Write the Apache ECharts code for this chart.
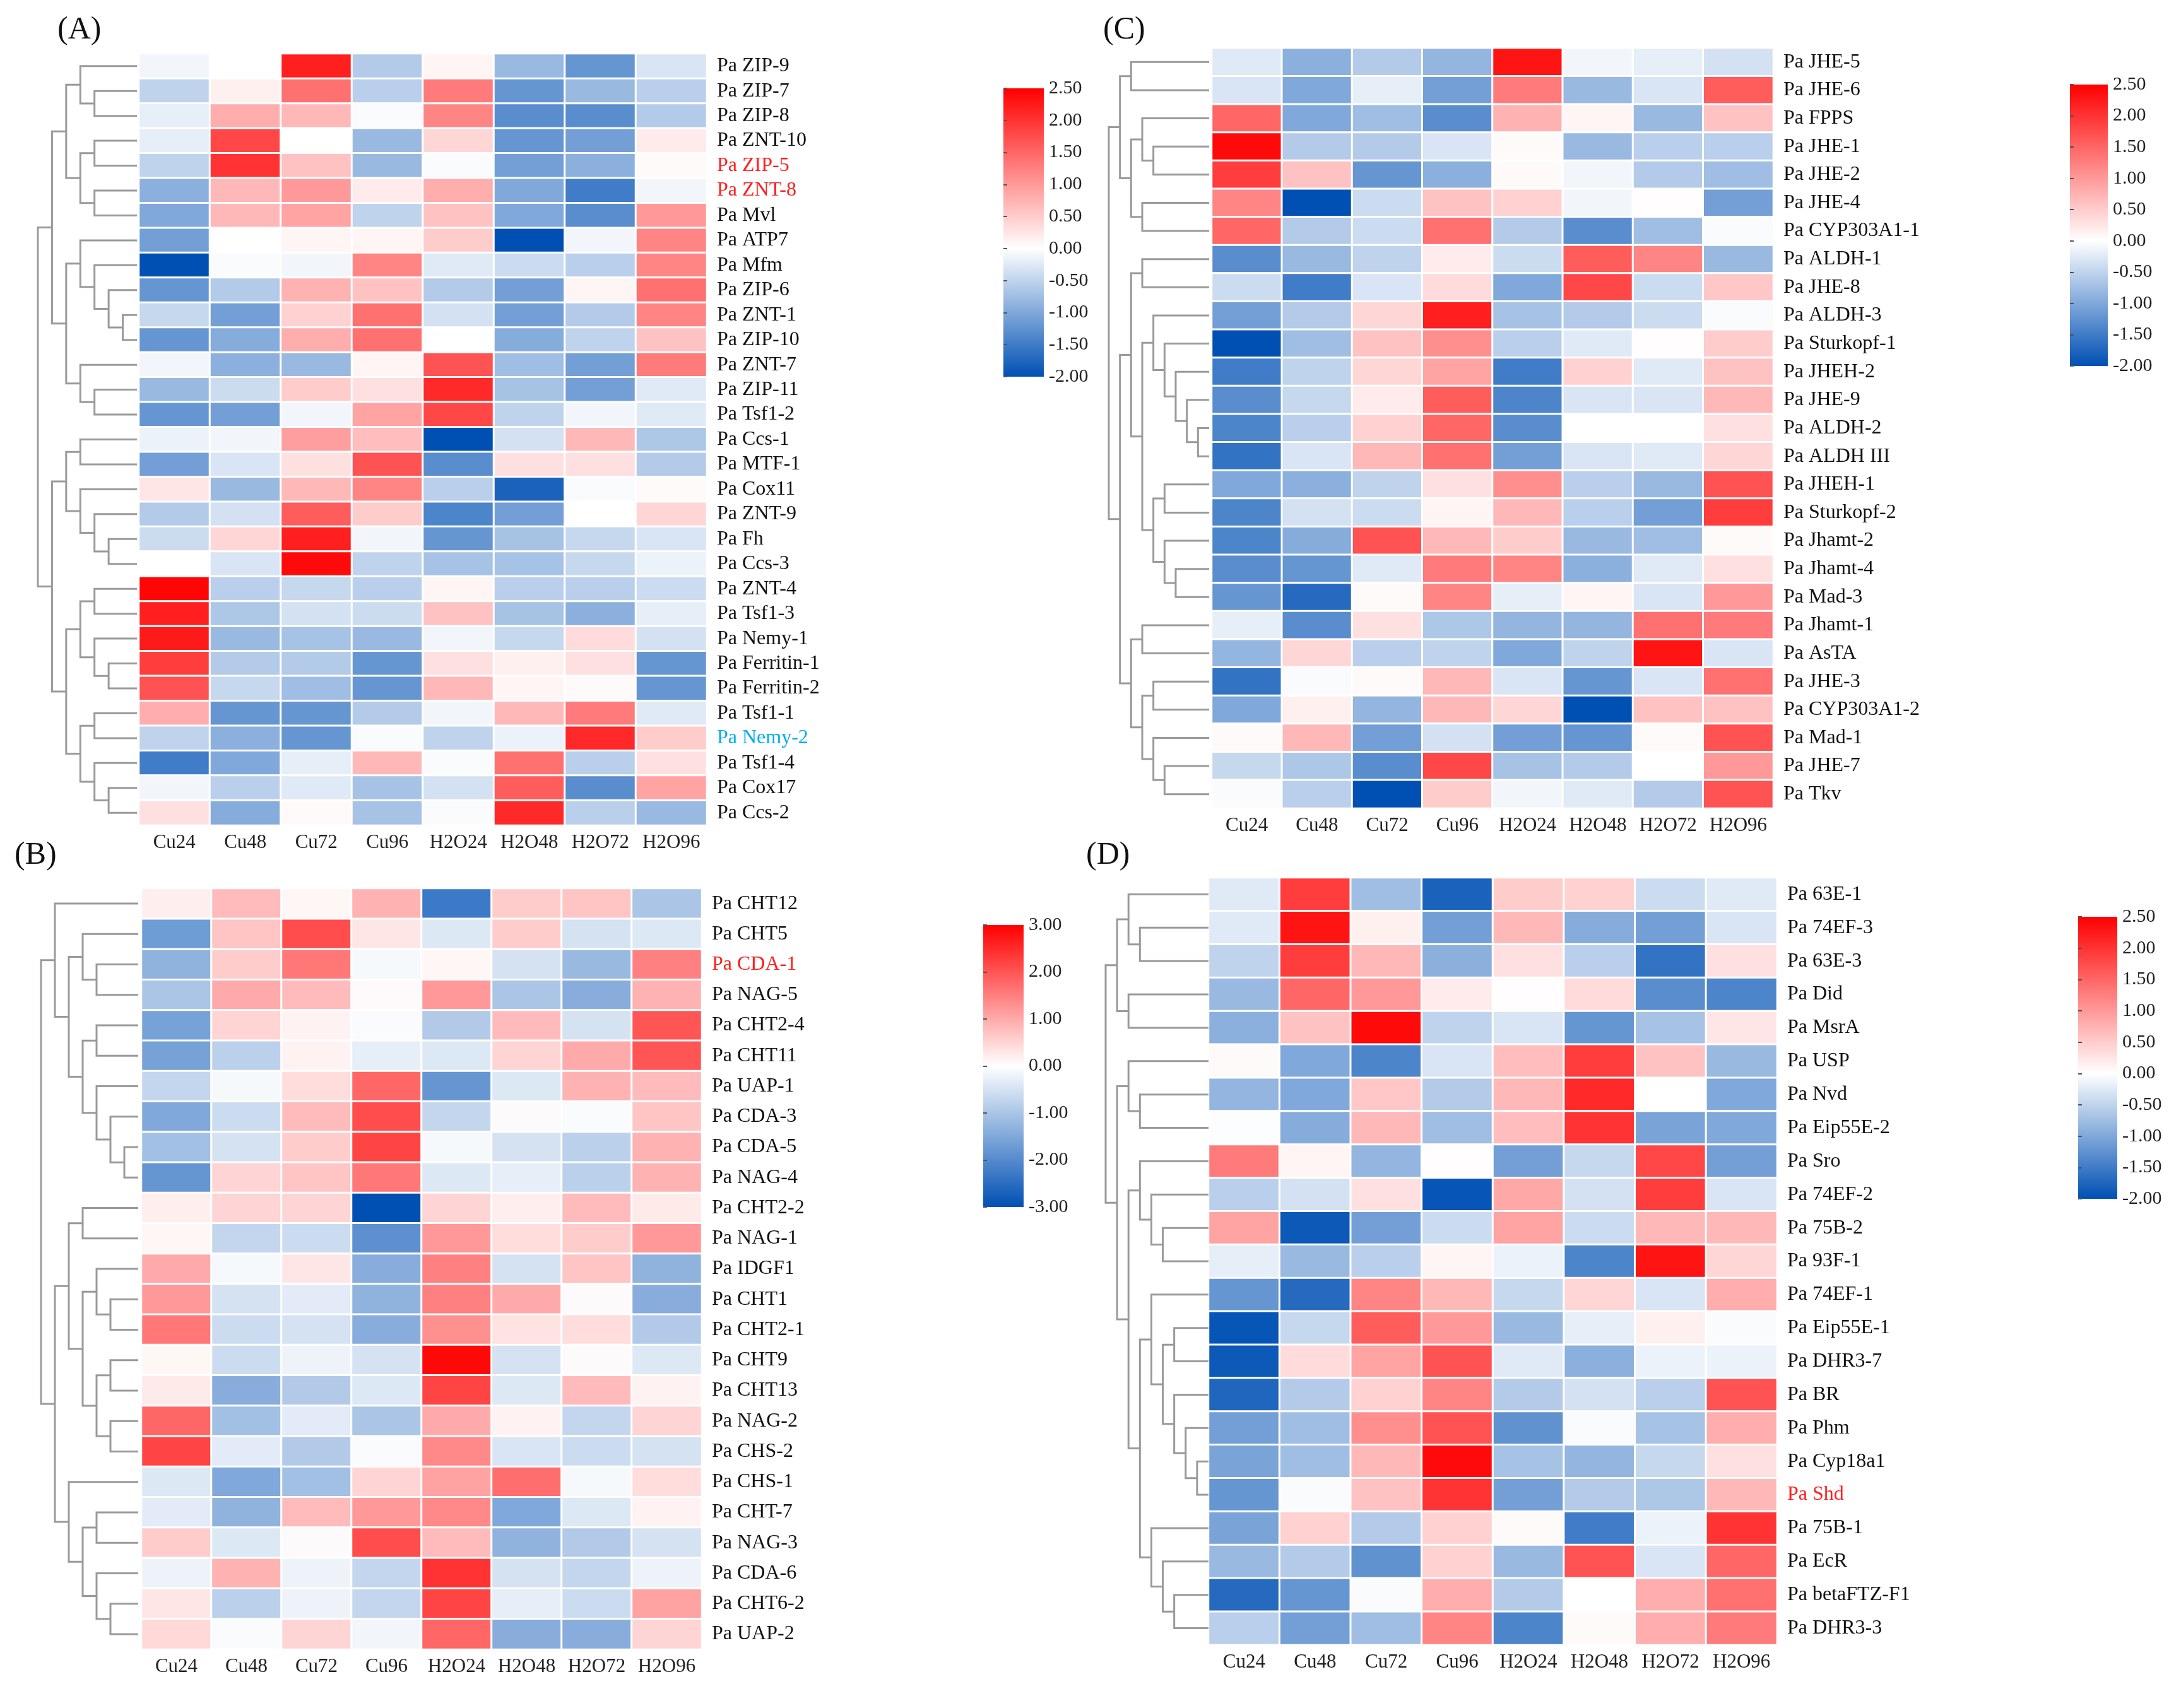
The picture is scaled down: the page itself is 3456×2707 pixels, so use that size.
<!DOCTYPE html>
<html>
<head>
<meta charset="utf-8">
<script src="https://cdn.jsdelivr.net/npm/echarts@6/dist/echarts.min.js"></script>
<style>
  html, body { margin: 0; background: #fff; }
  #chart { width: 3456px; height: 2707px; }
</style>
</head>
<body>
<div id="chart"></div>
<script>
// sample columns, shared by all four heatmaps
const cols = ['Cu24', 'Cu48', 'Cu72', 'Cu96', 'H2O24', 'H2O48', 'H2O72', 'H2O96']

// (A)
const rowsA = ['Pa ZIP-9', 'Pa ZIP-7', 'Pa ZIP-8', 'Pa ZNT-10', 'Pa ZIP-5', 'Pa ZNT-8', 'Pa Mvl', 'Pa ATP7',
  'Pa Mfm', 'Pa ZIP-6', 'Pa ZNT-1', 'Pa ZIP-10', 'Pa ZNT-7', 'Pa ZIP-11', 'Pa Tsf1-2', 'Pa Ccs-1',
  'Pa MTF-1', 'Pa Cox11', 'Pa ZNT-9', 'Pa Fh', 'Pa Ccs-3', 'Pa ZNT-4', 'Pa Tsf1-3', 'Pa Nemy-1',
  'Pa Ferritin-1', 'Pa Ferritin-2', 'Pa Tsf1-1', 'Pa Nemy-2', 'Pa Tsf1-4', 'Pa Cox17', 'Pa Ccs-2']
const valsA = [
  [-0.1, 0.0, 2.2, -0.6, 0.1, -0.8, -1.2, -0.3],
  [-0.5, 0.15, 1.4, -0.55, 1.3, -1.2, -0.8, -0.55],
  [-0.2, 0.8, 0.7, -0.05, 1.2, -1.3, -1.3, -0.6],
  [-0.2, 1.8, 0.0, -0.8, 0.4, -1.2, -1.1, 0.2],
  [-0.5, 2.0, 0.6, -0.8, -0.05, -1.1, -0.9, 0.05],
  [-0.9, 0.7, 1.0, 0.2, 0.8, -1.0, -1.5, -0.1],
  [-1.0, 0.7, 0.9, -0.5, 0.6, -1.0, -1.3, 1.0],
  [-1.1, 0.0, 0.1, 0.1, 0.5, -2.0, -0.1, 1.2],
  [-2.0, -0.05, -0.1, 1.2, -0.25, -0.4, -0.55, 1.2],
  [-1.2, -0.6, 0.75, 0.6, -0.6, -1.1, 0.1, 1.4],
  [-0.45, -1.1, 0.45, 1.4, -0.35, -1.1, -0.6, 1.2],
  [-1.2, -0.95, 0.8, 1.4, 0.0, -0.95, -0.5, 0.6],
  [-0.1, -0.9, -0.8, 0.1, 1.7, -0.75, -1.1, 1.3],
  [-0.8, -0.4, 0.5, 0.3, 2.1, -0.7, -1.1, -0.25],
  [-1.2, -1.1, -0.1, 0.9, 1.8, -0.5, -0.1, -0.25],
  [-0.15, -0.1, 0.95, 0.65, -2.0, -0.35, 0.7, -0.65],
  [-1.1, -0.3, 0.3, 1.7, -1.3, 0.3, 0.3, -0.6],
  [0.25, -0.8, 0.7, 1.2, -0.55, -1.8, -0.05, 0.05],
  [-0.6, -0.35, 1.6, 0.5, -1.4, -1.1, 0.0, 0.4],
  [-0.4, 0.4, 2.2, -0.1, -1.2, -0.7, -0.45, -0.3],
  [0.0, -0.3, 2.4, -0.5, -0.7, -0.7, -0.45, -0.15],
  [2.45, -0.55, -0.45, -0.55, 0.1, -0.55, -0.55, -0.4],
  [2.2, -0.65, -0.35, -0.4, 0.6, -0.7, -0.9, -0.2],
  [2.25, -0.8, -0.7, -0.8, -0.1, -0.45, 0.35, -0.35],
  [1.9, -0.6, -0.6, -1.2, 0.3, 0.15, 0.3, -1.2],
  [1.7, -0.45, -0.75, -1.2, 0.7, 0.1, 0.05, -1.2],
  [0.8, -1.2, -1.2, -0.6, -0.1, 0.7, 1.3, -0.25],
  [-0.5, -0.9, -1.2, -0.05, -0.5, -0.15, 2.1, 0.5],
  [-1.5, -1.0, -0.2, 0.7, -0.05, 1.4, -0.55, 0.3],
  [-0.1, -0.55, -0.25, -0.7, -0.35, 1.6, -1.3, 0.9],
  [0.3, -0.95, 0.05, -0.7, -0.05, 2.1, -0.55, -0.8]
]
// dendrogram: [merge level, left, right], leaves are row indexes
const treeA = [7,
  [6, [5, [4, 0, [3, 1, 2]], [4, [3, 3, 4], [3, 5, 6]]],
      [5, [4, 7, [3, 8, [2, 9, [1, 10, 11]]]], [4, 12, [3, 13, 14]]]],
  [6, [5, [4, 15, 16], [4, 17, [3, 18, [2, 19, 20]]]],
      [5, [4, [3, 21, 22], [3, 23, [2, 24, 25]]], [4, [3, 26, 27], [3, 28, [2, 29, 30]]]]]]
const markA = { 'Pa ZIP-5': 'r', 'Pa ZNT-8': 'r', 'Pa Nemy-2': 'b' }

// (B)
const rowsB = ['Pa CHT12', 'Pa CHT5', 'Pa CDA-1', 'Pa NAG-5', 'Pa CHT2-4', 'Pa CHT11', 'Pa UAP-1', 'Pa CDA-3',
  'Pa CDA-5', 'Pa NAG-4', 'Pa CHT2-2', 'Pa NAG-1', 'Pa IDGF1', 'Pa CHT1', 'Pa CHT2-1', 'Pa CHT9',
  'Pa CHT13', 'Pa NAG-2', 'Pa CHS-2', 'Pa CHS-1', 'Pa CHT-7', 'Pa NAG-3', 'Pa CDA-6', 'Pa CHT6-2', 'Pa UAP-2']
const valsB = [
  [0.2, 0.8, 0.1, 0.9, -2.3, 0.6, 0.7, -1.0],
  [-1.7, 0.7, 2.1, 0.3, -0.4, 0.6, -0.5, -0.4],
  [-1.3, 0.6, 1.6, -0.1, 0.1, -0.5, -1.2, 1.5],
  [-1.0, 1.0, 0.8, 0.05, 1.2, -1.0, -1.4, 0.9],
  [-1.6, 0.5, 0.15, -0.05, -0.9, 0.8, -0.5, 2.0],
  [-1.6, -0.8, 0.15, -0.3, -0.4, 0.5, 1.0, 2.0],
  [-0.7, -0.1, 0.4, 1.8, -1.8, -0.4, 0.9, 0.8],
  [-1.5, -0.6, 0.8, 2.1, -0.7, 0.0, -0.05, 0.7],
  [-1.1, -0.5, 0.6, 2.2, -0.1, -0.5, -0.8, 0.9],
  [-1.8, 0.5, 0.7, 1.6, -0.4, -0.3, -0.8, 0.9],
  [0.2, 0.5, 0.5, -3.0, 0.5, 0.2, 0.8, 0.25],
  [0.1, -0.7, -0.6, -1.9, 1.2, 0.4, 0.6, 1.2],
  [1.0, -0.1, 0.3, -1.4, 1.5, -0.5, 0.7, -1.3],
  [1.2, -0.5, -0.35, -1.3, 1.5, 1.0, 0.0, -1.4],
  [1.6, -0.6, -0.5, -1.4, 1.3, 0.35, 0.4, -0.9],
  [0.1, -0.6, -0.2, -0.5, 2.9, -0.5, 0.0, -0.4],
  [0.25, -1.4, -0.9, -0.4, 2.2, -0.4, 0.8, 0.15],
  [1.8, -1.1, -0.35, -1.0, 1.0, 0.15, -0.7, 0.5],
  [2.2, -0.35, -0.9, -0.05, 1.4, -0.45, -0.6, -0.5],
  [-0.4, -1.5, -1.1, 0.5, 1.1, 1.7, -0.1, 0.4],
  [-0.35, -1.3, 0.8, 1.2, 1.4, -1.5, -0.4, 0.15],
  [0.6, -0.4, 0.0, 2.1, 0.8, -1.3, -0.9, -0.5],
  [-0.2, 0.9, -0.2, -0.7, 2.4, -0.5, -0.7, -0.2],
  [0.3, -0.8, -0.2, -0.7, 2.2, -0.3, -0.6, 1.1],
  [0.45, -0.05, 0.5, -0.15, 1.8, -1.4, -1.4, 0.5]
]
const treeB = [7,
  [6, 0, [5, [4, 1, [3, 2, 3]], [4, [3, 4, 5], [3, 6, [2, 7, [1, 8, 9]]]]]],
  [6, [5, [4, 10, 11], [4, [3, 12, [2, 13, 14]], [3, [2, 15, 16], [2, 17, 18]]]],
      [5, 19, [4, [3, 20, 21], [3, 22, [2, 23, 24]]]]]]
const markB = { 'Pa CDA-1': 'r' }

// (C)
const rowsC = ['Pa JHE-5', 'Pa JHE-6', 'Pa FPPS', 'Pa JHE-1', 'Pa JHE-2', 'Pa JHE-4', 'Pa CYP303A1-1', 'Pa ALDH-1',
  'Pa JHE-8', 'Pa ALDH-3', 'Pa Sturkopf-1', 'Pa JHEH-2', 'Pa JHE-9', 'Pa ALDH-2', 'Pa ALDH III', 'Pa JHEH-1',
  'Pa Sturkopf-2', 'Pa Jhamt-2', 'Pa Jhamt-4', 'Pa Mad-3', 'Pa Jhamt-1', 'Pa AsTA', 'Pa JHE-3', 'Pa CYP303A1-2',
  'Pa Mad-1', 'Pa JHE-7', 'Pa Tkv']
const valsC = [
  [-0.25, -0.9, -0.6, -0.85, 2.3, -0.1, -0.2, -0.35],
  [-0.3, -1.0, -0.2, -1.1, 1.3, -0.8, -0.3, 1.6],
  [1.5, -1.0, -0.75, -1.3, 0.75, 0.1, -0.8, 0.6],
  [2.4, -0.6, -0.6, -0.3, 0.05, -0.8, -0.55, -0.55],
  [1.9, 0.6, -1.2, -0.9, 0.05, -0.1, -0.6, -0.75],
  [1.2, -2.0, -0.4, 0.6, 0.45, -0.1, 0.02, -1.1],
  [1.5, -0.6, -0.4, 1.4, -0.6, -1.3, -0.75, -0.05],
  [-1.3, -0.8, -0.5, 0.2, -0.4, 1.6, 1.2, -0.8],
  [-0.4, -1.5, -0.3, 0.35, -1.0, 1.8, -0.4, 0.55],
  [-1.1, -0.6, 0.4, 2.2, -0.7, -0.6, -0.4, -0.05],
  [-2.0, -0.75, 0.6, 1.1, -0.55, -0.25, 0.02, 0.5],
  [-1.5, -0.5, 0.4, 0.9, -1.5, 0.45, -0.25, 0.6],
  [-1.3, -0.45, 0.2, 1.6, -1.4, -0.3, -0.3, 0.7],
  [-1.4, -0.55, 0.45, 1.5, -1.3, 0.0, 0.0, 0.3],
  [-1.6, -0.3, 0.7, 1.4, -1.1, -0.3, -0.25, 0.4],
  [-1.0, -0.9, -0.5, 0.3, 1.1, -0.55, -0.8, 1.7],
  [-1.4, -0.35, -0.4, 0.1, 0.7, -0.55, -1.1, 1.9],
  [-1.4, -0.95, 1.7, 0.7, 0.5, -0.8, -0.75, 0.05],
  [-1.3, -1.2, -0.25, 1.3, 1.2, -0.9, -0.25, 0.3],
  [-1.2, -1.7, 0.05, 1.2, -0.2, 0.1, -0.3, 1.0],
  [-0.2, -1.3, 0.3, -0.65, -0.85, -0.85, 1.4, 1.3],
  [-0.85, 0.4, -0.55, -0.5, -1.0, -0.5, 2.3, -0.3],
  [-1.6, -0.05, 0.05, 0.7, -0.3, -1.2, -0.3, 1.4],
  [-1.0, 0.15, -0.85, 0.7, 0.4, -2.0, 0.6, 0.6],
  [0.05, 0.7, -1.1, -0.35, -1.1, -1.2, 0.05, 1.7],
  [-0.45, -0.65, -1.3, 1.8, -0.7, -0.6, 0.0, 1.0],
  [-0.05, -0.55, -2.0, 0.5, -0.1, -0.25, -0.6, 1.7]
]
const treeC = [9,
  [8, [7, 0, 1], [7, [6, 2, [5, 3, 4]], [6, 5, 6]]],
  [8, [7, [6, 7, 8], [6, [5, 9, [4, 10, [3, 11, [2, 12, [1, 13, 14]]]]], [5, [4, 15, 16], [4, 17, [3, 18, 19]]]]],
      [7, [6, 20, 21], [6, [5, 22, 23], [5, 24, [4, 25, 26]]]]]]
const markC = {}

// (D)
const rowsD = ['Pa 63E-1', 'Pa 74EF-3', 'Pa 63E-3', 'Pa Did', 'Pa MsrA', 'Pa USP', 'Pa Nvd', 'Pa Eip55E-2',
  'Pa Sro', 'Pa 74EF-2', 'Pa 75B-2', 'Pa 93F-1', 'Pa 74EF-1', 'Pa Eip55E-1', 'Pa DHR3-7', 'Pa BR',
  'Pa Phm', 'Pa Cyp18a1', 'Pa Shd', 'Pa 75B-1', 'Pa EcR', 'Pa betaFTZ-F1', 'Pa DHR3-3']
const valsD = [
  [-0.25, 1.9, -0.75, -1.8, 0.5, 0.45, -0.4, -0.25],
  [-0.25, 2.3, 0.15, -1.1, 0.7, -0.95, -1.1, -0.3],
  [-0.5, 1.9, 0.7, -0.9, 0.3, -0.55, -1.6, 0.3],
  [-0.8, 1.5, 1.0, 0.2, 0.02, 0.35, -1.3, -1.4],
  [-0.9, 0.6, 2.4, -0.5, -0.3, -1.2, -0.7, 0.25],
  [0.05, -1.0, -1.4, -0.3, 0.65, 1.9, 0.6, -0.8],
  [-0.85, -1.0, 0.55, -0.6, 0.7, 2.1, 0.0, -1.0],
  [-0.02, -0.95, 0.7, -0.75, 0.65, 2.0, -1.05, -1.0],
  [1.3, 0.1, -0.85, 0.02, -1.1, -0.45, 1.8, -1.1],
  [-0.55, -0.35, 0.3, -1.95, 0.85, -0.35, 1.9, -0.3],
  [0.9, -1.9, -1.1, -0.4, 0.9, -0.4, 0.7, 0.7],
  [-0.2, -0.8, -0.55, 0.1, -0.15, -1.4, 2.3, 0.4],
  [-1.2, -1.7, 1.2, 0.7, -0.45, 0.4, -0.3, 0.8],
  [-1.95, -0.45, 1.6, 1.0, -0.8, -0.2, 0.15, -0.05],
  [-1.9, 0.35, 0.9, 1.7, -0.25, -0.9, -0.15, -0.15],
  [-1.75, -0.6, 0.45, 1.2, -0.6, -0.35, -0.55, 1.7],
  [-1.1, -0.75, 1.1, 1.7, -1.25, -0.05, -0.7, 0.8],
  [-1.05, -0.75, 0.7, 2.4, -0.7, -0.85, -0.45, 0.3],
  [-1.2, -0.05, 0.6, 2.0, -1.1, -0.6, -0.65, 0.7],
  [-1.05, 0.45, -0.6, 0.45, 0.05, -1.5, -0.15, 2.0],
  [-0.8, -0.6, -1.25, 0.45, -0.8, 1.7, -0.3, 1.5],
  [-1.7, -1.2, -0.05, 0.8, -0.6, 0.0, 0.8, 1.4],
  [-0.55, -1.1, -0.75, 1.2, -1.4, 0.05, 0.8, 1.3]
]
const treeD = [9,
  [8, [7, 0, [6, 1, 2]], [7, 3, 4]],
  [8, [7, 5, [6, 6, 7]],
      [7, [6, 8, [5, 9, [4, 10, 11]]],
          [6, [5, 12, [4, [3, 13, 14], [3, 15, [2, 16, [1, 17, 18]]]]], [5, 19, [4, 20, [3, 21, 22]]]]]]]
const markD = { 'Pa Shd': 'r' }

const SERIF = 'Liberation Serif'
const RED = '#ff0000', WHITE = '#ffffff', BLUE = '#0050b4'

// layout of the four panels (pixels)
const panels = [
  { tag: '(A)', rows: rowsA, vals: valsA, tree: treeA, mark: markA, min: -2, max: 2.5, step: 0.5,
    heat: { left: 220, top: 85, width: 900, height: 1223 }, dendro: { left: 60, width: 157 },
    bar: { left: 1590, top: 140, width: 64, height: 457 }, title: { left: 86, top: 18 } },
  { tag: '(B)', rows: rowsB, vals: valsB, tree: treeB, mark: markB, min: -3, max: 3, step: 1,
    heat: { left: 224, top: 1408, width: 888, height: 1206 }, dendro: { left: 65, width: 154 },
    bar: { left: 1558, top: 1466, width: 64, height: 447 }, title: { left: 18, top: 1326 } },
  { tag: '(C)', rows: rowsC, vals: valsC, tree: treeC, mark: markC, min: -2, max: 2.5, step: 0.5,
    heat: { left: 1920, top: 76, width: 890, height: 1205 }, dendro: { left: 1757, width: 159 },
    bar: { left: 3280, top: 134, width: 60, height: 446 }, title: { left: 1743, top: 18 } },
  { tag: '(D)', rows: rowsD, vals: valsD, tree: treeD, mark: markD, min: -2, max: 2.5, step: 0.5,
    heat: { left: 1915, top: 1391, width: 901, height: 1216 }, dendro: { left: 1752, width: 163 },
    bar: { left: 3293, top: 1453, width: 62, height: 447 }, title: { left: 1716, top: 1326 } }
]

// blue - white - red, white sitting at 0
function ramp(min, max) {
  let out = []
  for (let i = 0; i <= 45; i++) {
    let v = min + (max - min) * i / 45
    out.push(v < 0 ? echarts.color.lerp(v / min, [WHITE, BLUE]) : echarts.color.lerp(v / max, [WHITE, RED]))
  }
  return out
}

// elbow lines of a dendrogram, in (level, row) units
function dendroLines(tree) {
  let lines = []
  let walk = function (n) {
    if (typeof n === 'number') return { h: 0, y: n }
    let l = walk(n[1]), r = walk(n[2])
    lines.push({ coords: [[l.h, l.y], [n[0], l.y], [n[0], r.y], [r.h, r.y]] })
    return { h: n[0], y: (l.y + r.y) / 2 }
  }
  walk(tree)
  return lines
}

let grid = [], xAxis = [], yAxis = [], series = [], visualMap = [], title = []

panels.forEach(function (p, i) {
  let hIdx = grid.length
  grid.push(Object.assign({ containLabel: false }, p.heat))
  grid.push({ left: p.dendro.left, width: p.dendro.width, top: p.heat.top, height: p.heat.height })
  grid.push(Object.assign({
    show: true, borderWidth: 0,
    backgroundColor: new echarts.graphic.LinearGradient(0, 0, 0, 1, [
      { offset: 0, color: RED }, { offset: p.max / (p.max - p.min), color: WHITE }, { offset: 1, color: BLUE }])
  }, p.bar))

  // heatmap axes
  xAxis.push({
    gridIndex: hIdx, type: 'category', data: cols, position: 'bottom',
    axisLine: { show: false }, axisTick: { show: false }, splitLine: { show: false },
    axisLabel: { interval: 0, fontFamily: SERIF, fontSize: 31, color: '#222', margin: 12 }
  })
  yAxis.push({
    gridIndex: hIdx, type: 'category', data: p.rows, inverse: true, position: 'right',
    axisLine: { show: false }, axisTick: { show: false }, splitLine: { show: false },
    axisLabel: {
      interval: 0, fontFamily: SERIF, fontSize: 32, color: '#111', margin: 16,
      formatter: function (v) { return p.mark[v] ? '{' + p.mark[v] + '|' + v + '}' : v },
      rich: {
        r: { color: '#ff1f1f', fontFamily: SERIF, fontSize: 32 },
        b: { color: '#00aee8', fontFamily: SERIF, fontSize: 32 }
      }
    }
  })
  // dendrogram axes
  let top = p.tree[0]
  xAxis.push({ gridIndex: hIdx + 1, type: 'value', min: 0, max: top, inverse: true, show: false })
  yAxis.push({ gridIndex: hIdx + 1, type: 'value', min: -0.5, max: p.rows.length - 0.5, inverse: true, show: false })
  // colour bar axes
  xAxis.push({ gridIndex: hIdx + 2, type: 'value', min: 0, max: 1, show: false })
  yAxis.push({
    gridIndex: hIdx + 2, type: 'value', min: p.min, max: p.max, interval: p.step, position: 'right',
    axisLine: { show: false }, splitLine: { show: false },
    axisTick: { show: true, length: 6, lineStyle: { color: '#555', width: 2 } },
    axisLabel: { fontFamily: SERIF, fontSize: 30, color: '#222', margin: 8,
      formatter: function (v) { return v.toFixed(2) } }
  })

  let data = []
  p.vals.forEach(function (row, r) {
    row.forEach(function (v, c) { data.push([c, r, v]) })
  })
  visualMap.push({
    type: 'continuous', show: false, seriesIndex: series.length, dimension: 2,
    min: p.min, max: p.max, inRange: { color: ramp(p.min, p.max) }
  })
  series.push({
    type: 'heatmap', xAxisIndex: hIdx, yAxisIndex: hIdx, data: data,
    itemStyle: { borderColor: '#fff', borderWidth: 3 },
    emphasis: { disabled: true }, progressive: 0
  })
  series.push({
    type: 'lines', coordinateSystem: 'cartesian2d', xAxisIndex: hIdx + 1, yAxisIndex: hIdx + 1,
    polyline: true, silent: true, data: dendroLines(p.tree),
    lineStyle: { color: '#9a9a9a', width: 3, opacity: 1 }
  })
  title.push({
    text: p.tag, left: p.title.left, top: p.title.top,
    textStyle: { fontFamily: SERIF, fontSize: 50, fontWeight: 'normal', color: '#111' }
  })
})

let chart = echarts.init(document.getElementById('chart'), null, { renderer: 'canvas' })
chart.setOption({
  backgroundColor: '#fff',
  animation: false,
  title: title,
  grid: grid,
  xAxis: xAxis,
  yAxis: yAxis,
  visualMap: visualMap,
  series: series
})
</script>
</body>
</html>
